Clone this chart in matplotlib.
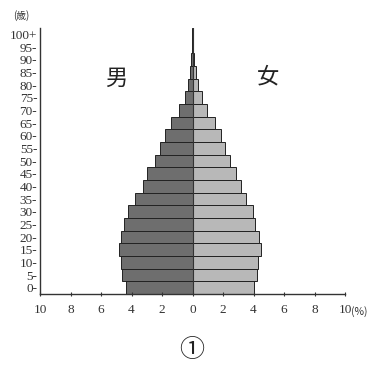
import numpy as np
import matplotlib
matplotlib.use("Agg")
import matplotlib.pyplot as plt

# age groups 0-4 ... 95-99, 100+
age_labels = ["0-", "5-", "10-", "15-", "20-", "25-", "30-", "35-", "40-", "45-",
              "50-", "55-", "60-", "65-", "70-", "75-", "80-", "85-", "90-", "95-", "100+"]
male = [4.39, 4.6, 4.72, 4.79, 4.72, 4.5, 4.22, 3.78, 3.26, 2.97,
        2.47, 2.15, 1.81, 1.42, 0.9, 0.52, 0.28, 0.16, 0.09, 0.03, 0.01]
female = [4.02, 4.24, 4.3, 4.46, 4.35, 4.13, 3.98, 3.54, 3.15, 2.82,
          2.45, 2.1, 1.88, 1.45, 0.94, 0.64, 0.38, 0.22, 0.12, 0.04, 0.01]
xtick_vals = [-10, -8, -6, -4, -2, 0, 2, 4, 6, 8, 10]
xtick_labels = ["10", "8", "6", "4", "2", "0", "2", "4", "6", "8", "10"]

serif = ["Liberation Serif", "DejaVu Serif"]
cjk = ["Noto Sans CJK JP", "DejaVu Sans"]

fig = plt.figure(figsize=(3.71, 3.74), dpi=100)
ax = fig.add_axes([40/371, 1 - 294/374, 305/371, 266/374])

y = np.arange(len(age_labels))
ax.barh(y, -np.array(male), height=1.0, color="#6e6e6e", edgecolor="#222222", linewidth=0.7)
ax.barh(y, female, height=1.0, color="#b8b8b8", edgecolor="#222222", linewidth=0.7)
ax.axvline(0, color="#333333", linewidth=0.8)

ax.set_xlim(-10, 10)
ax.set_ylim(-0.5, len(age_labels) - 0.5)
ax.set_xticks(xtick_vals)
ax.set_xticklabels(xtick_labels, family=serif, fontsize=9.5, color="#333333")
ax.set_yticks(y)
ax.set_yticklabels(age_labels, family=serif, fontsize=9.5, color="#333333")
ax.tick_params(axis="y", length=0, pad=2)
ax.tick_params(axis="x", length=3, direction="inout", pad=6, color="#333333")

for s in ["top", "right"]:
    ax.spines[s].set_visible(False)
for s in ["left", "bottom"]:
    ax.spines[s].set_color("#333333")
    ax.spines[s].set_linewidth(1.0)

fig.text(351/371, 1 - 312/374, "(%)", family=cjk, fontsize=7.5, ha="left", va="center", color="#333333")
fig.text(21/371, 1 - 16/374, "(歳)", family=cjk, fontsize=7, ha="center", va="center", color="#333333")
fig.text(116/371, 1 - 78/374, "男", family=cjk, fontsize=16, ha="center", va="center", color="#222222")
fig.text(268/371, 1 - 77/374, "女", family=cjk, fontsize=16, ha="center", va="center", color="#222222")
fig.text(192/371, 1 - 350/374, "①", family=cjk, fontsize=18, ha="center", va="center", color="#222222")

fig.savefig("out.png", dpi=100, facecolor="white")
